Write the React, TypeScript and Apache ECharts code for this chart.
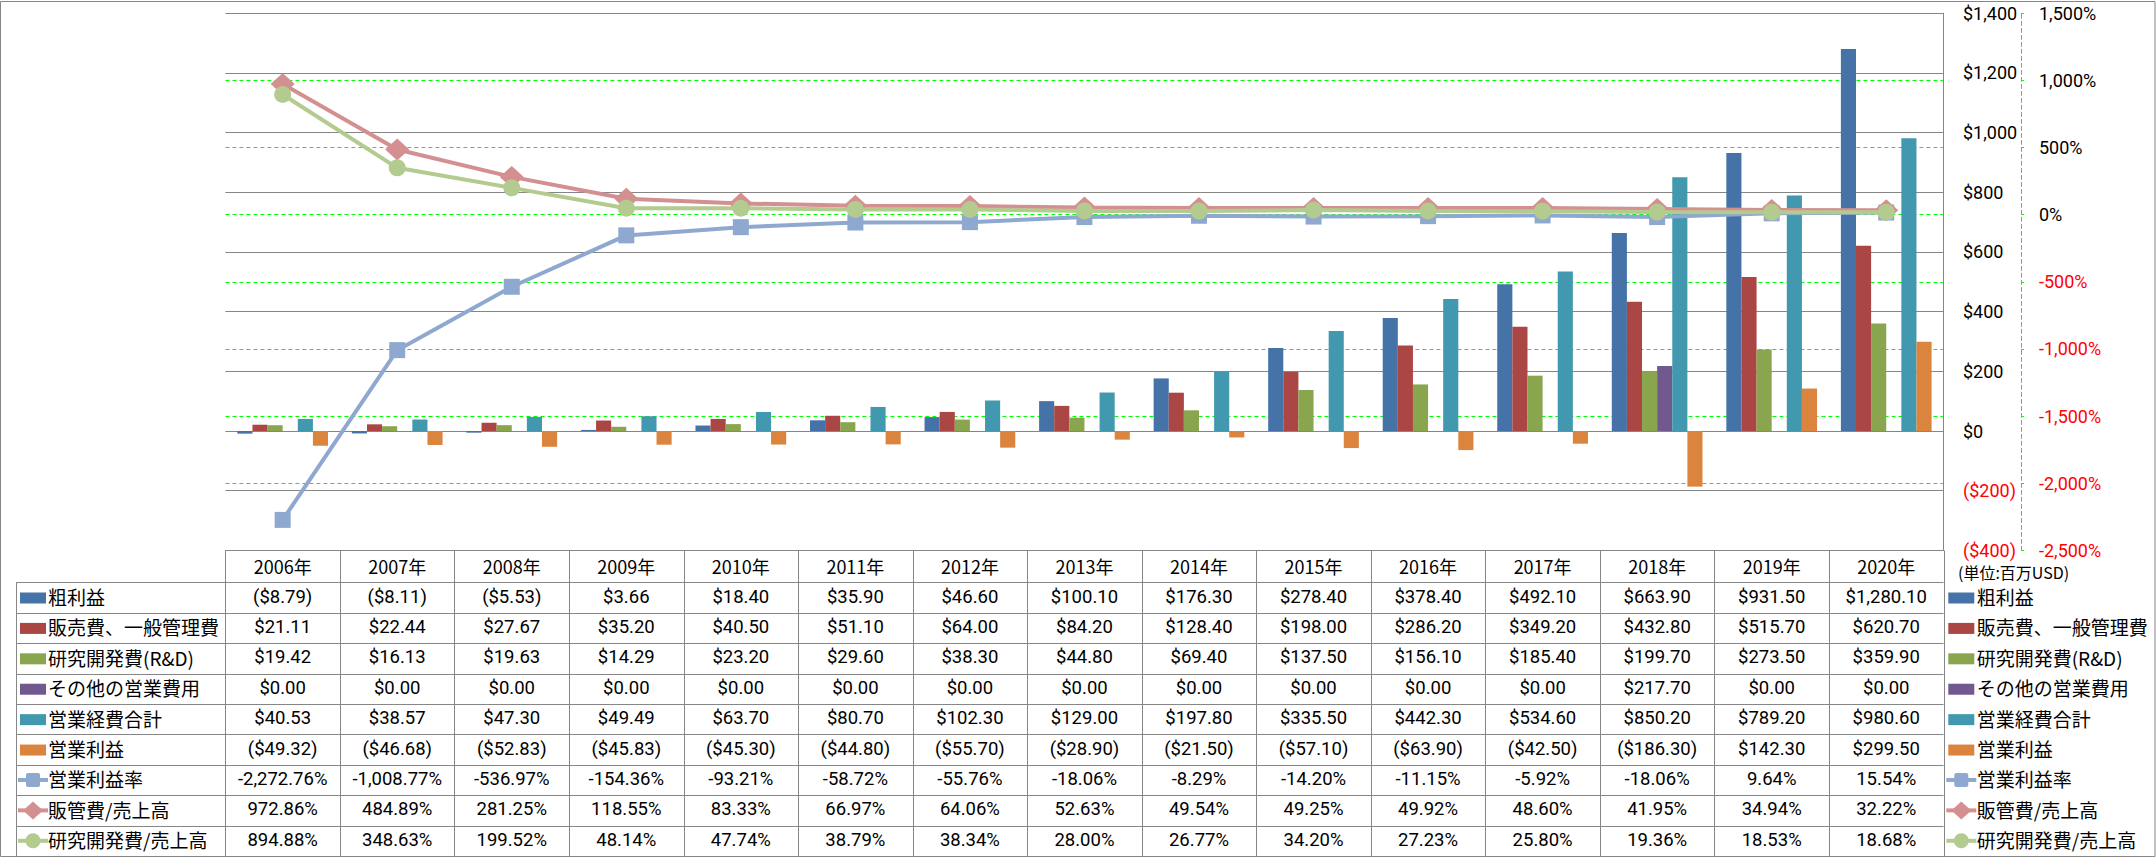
import React, { useEffect, useRef } from "react";
import * as echarts from "echarts";

// ---------------- data ----------------
const years = ["2006", "2007", "2008", "2009", "2010", "2011", "2012", "2013", "2014", "2015", "2016", "2017", "2018", "2019", "2020"];
const grossProfit = [-8.79, -8.11, -5.53, 3.66, 18.4, 35.9, 46.6, 100.1, 176.3, 278.4, 378.4, 492.1, 663.9, 931.5, 1280.1];
const sgaExpense = [21.11, 22.44, 27.67, 35.2, 40.5, 51.1, 64.0, 84.2, 128.4, 198.0, 286.2, 349.2, 432.8, 515.7, 620.7];
const rdExpense = [19.42, 16.13, 19.63, 14.29, 23.2, 29.6, 38.3, 44.8, 69.4, 137.5, 156.1, 185.4, 199.7, 273.5, 359.9];
const otherExpense = [0, 0, 0, 0, 0, 0, 0, 0, 0, 0, 0, 0, 217.7, 0, 0];
const totalOpex = [40.53, 38.57, 47.3, 49.49, 63.7, 80.7, 102.3, 129.0, 197.8, 335.5, 442.3, 534.6, 850.2, 789.2, 980.6];
const operatingIncome = [-49.32, -46.68, -52.83, -45.83, -45.3, -44.8, -55.7, -28.9, -21.5, -57.1, -63.9, -42.5, -186.3, 142.3, 299.5];
const operatingMargin = [-2272.76, -1008.77, -536.97, -154.36, -93.21, -58.72, -55.76, -18.06, -8.29, -14.2, -11.15, -5.92, -18.06, 9.64, 15.54];
const sgaRatio = [972.86, 484.89, 281.25, 118.55, 83.33, 66.97, 64.06, 52.63, 49.54, 49.25, 49.92, 48.6, 41.95, 34.94, 32.22];
const rdRatio = [894.88, 348.63, 199.52, 48.14, 47.74, 38.79, 38.34, 28.0, 26.77, 34.2, 27.23, 25.8, 19.36, 18.53, 18.68];

const seriesNames = ["粗利益", "販売費、一般管理費", "研究開発費(R&D)", "その他の営業費用", "営業経費合計", "営業利益", "営業利益率", "販管費/売上高", "研究開発費/売上高"];
const usdAxis = { min: -400, max: 1400, interval: 200 };
const pctAxis = { min: -2500, max: 1500, interval: 500 };
const unitLabel = "(単位:百万USD)";

// ---------------- styles ----------------
const COLORS = ["#4572A7", "#AA4643", "#89A54E", "#71588F", "#4198AF", "#DB843D", "#8FA8CF", "#D49090", "#B3CB8F"];
const GRID_GRAY = "#868686";
const GREEN = "#00FF00";
const FONT_NUM = "Roboto, 'Noto Sans', sans-serif";
const FONT_JP = "'Noto Sans CJK JP', 'Noto Sans', sans-serif";

const W = 2156;
const H = 858;
const PLOT_L = 225.4;
const PLOT_R = 1943.5;
const PLOT_T = 13.2;
const PLOT_B = 550.4;
const ROW0 = 582.3;
const ROW_H = 30.41;

function commas(v: number, dec: number): string {
  const s = v.toFixed(dec);
  const [i, d] = s.split(".");
  const ii = i.replace(/\B(?=(\d{3})+(?!\d))/g, ",");
  return d !== undefined ? ii + "." + d : ii;
}
function fmtUsd(v: number, dec = 2): string {
  return v < 0 ? `($${commas(-v, dec)})` : `$${commas(v, dec)}`;
}
function fmtPct(v: number, dec = 2): string {
  return `${v < 0 ? "-" : ""}${commas(Math.abs(v), dec)}%`;
}

function textEl(text: string, x: number, y: number, size: number, family: string, align: string, fill = "#000") {
  return {
    type: "text",
    x,
    y,
    silent: true,
    z: 10,
    style: {
      text,
      fontSize: size,
      fontFamily: family,
      fill,
      align,
      verticalAlign: "middle",
      textAlign: align,
      textVerticalAlign: "middle",
    },
  };
}
function lineEl(x1: number, y1: number, x2: number, y2: number, stroke: string, lineWidth = 1) {
  return { type: "line", silent: true, z: 9, shape: { x1, y1, x2, y2 }, style: { stroke, lineWidth } };
}

function keyEls(i: number, x0: number, yc: number): any[] {
  const col = COLORS[i];
  if (i < 6) {
    return [{ type: "rect", silent: true, z: 10, shape: { x: x0, y: yc - 5, width: 26, height: 11 }, style: { fill: col } }];
  }
  const cx = x0 + 13;
  const els: any[] = [lineEl(x0 - 2, yc, x0 + 28, yc, col, 4)];
  if (i === 6) {
    els.push({ type: "rect", silent: true, z: 11, shape: { x: cx - 7, y: yc - 7, width: 14, height: 14, r: 2 }, style: { fill: col } });
  } else if (i === 7) {
    els.push({ type: "polygon", silent: true, z: 11, shape: { points: [[cx, yc - 9], [cx + 10, yc], [cx, yc + 9], [cx - 10, yc]] }, style: { fill: col } });
  } else {
    els.push({ type: "circle", silent: true, z: 11, shape: { cx, cy: yc, r: 7.5 }, style: { fill: col } });
  }
  return els;
}

export default function App() {
  const ref = useRef<HTMLDivElement>(null);

  useEffect(() => {
    if (!ref.current) return;
    const chart = echarts.init(ref.current, undefined, { renderer: "svg", width: W, height: H });

    const rows: number[][] = [grossProfit, sgaExpense, rdExpense, otherExpense, totalOpex, operatingIncome, operatingMargin, sgaRatio, rdRatio];
    const colW = (PLOT_R - PLOT_L) / years.length;
    const nRows = rows.length;
    const tableBottom = ROW0 + nRows * ROW_H;

    const g: any[] = [];
    // outer border
    g.push({ type: "rect", silent: true, z: 1, shape: { x: 0.5, y: 1.5, width: W - 1.5, height: tableBottom - 1 }, style: { fill: "none", stroke: GRID_GRAY, lineWidth: 1 } });

    // table grid
    const px = (v: number) => Math.round(v) + 0.5;
    g.push(lineEl(PLOT_L, px(PLOT_B), PLOT_R, px(PLOT_B), GRID_GRAY));
    for (let r = 0; r <= nRows; r++) {
      const y = px(ROW0 + r * ROW_H);
      g.push(lineEl(16.5, y, PLOT_R, y, GRID_GRAY));
    }
    for (let c = 0; c <= years.length; c++) {
      const x = px(PLOT_L + c * colW);
      g.push(lineEl(x, PLOT_B, x, tableBottom, GRID_GRAY));
    }
    g.push(lineEl(16.5, ROW0, 16.5, tableBottom, GRID_GRAY));

    // header years
    years.forEach((y, c) => {
      g.push(textEl(`${y}年`, PLOT_L + (c + 0.5) * colW, (PLOT_B + ROW0) / 2, 18, FONT_JP, "center"));
    });

    // body values
    rows.forEach((vals, r) => {
      const yc = ROW0 + (r + 0.5) * ROW_H - 1;
      vals.forEach((v, c) => {
        const t = r < 6 ? fmtUsd(v) : fmtPct(v);
        g.push(textEl(t, PLOT_L + (c + 0.5) * colW, yc, 18.5, FONT_NUM, "center"));
      });
      // left legend
      keyEls(r, 20, yc + 1).forEach((e) => g.push(e));
      g.push(textEl(seriesNames[r], 48, yc, 19, FONT_JP, "left"));
      // right legend
      keyEls(r, 1948.3, yc + 1).forEach((e) => g.push(e));
      g.push(textEl(seriesNames[r], 1976.7, yc, 19, FONT_JP, "left"));
    });

    g.push(textEl(unitLabel, 1958, 571.7, 16, FONT_JP, "left"));

    const barNames = seriesNames.slice(0, 6);
    const barData = [grossProfit, sgaExpense, rdExpense, otherExpense, totalOpex, operatingIncome];
    const lineData = [operatingMargin, sgaRatio, rdRatio];
    const lineSymbols = ["rect", "diamond", "circle"];
    const lineSymbolSize: any[] = [16, [24, 22], 17];

    const series: any[] = [];
    barData.forEach((d, i) => {
      series.push({
        name: barNames[i],
        type: "bar",
        yAxisIndex: 0,
        data: d,
        barGap: "0%",
        barCategoryGap: "20.8%",
        itemStyle: { color: COLORS[i] },
        silent: true,
      });
    });
    lineData.forEach((d, j) => {
      series.push({
        name: seriesNames[6 + j],
        type: "line",
        yAxisIndex: 1,
        data: d,
        symbol: lineSymbols[j],
        symbolSize: lineSymbolSize[j],
        showAllSymbol: true,
        lineStyle: { color: COLORS[6 + j], width: 4 },
        itemStyle: { color: COLORS[6 + j], opacity: 1 },
        z: 3 + j,
        silent: true,
      });
    });

    chart.setOption({
      animation: false,
      backgroundColor: "#ffffff",
      grid: { left: PLOT_L, right: W - PLOT_R, top: PLOT_T, bottom: H - PLOT_B, containLabel: false },
      xAxis: {
        type: "category",
        data: years,
        axisLine: { show: false },
        axisTick: { show: false },
        axisLabel: { show: false },
        splitLine: { show: false },
      },
      yAxis: [
        {
          type: "value",
          position: "right",
          min: usdAxis.min,
          max: usdAxis.max,
          interval: usdAxis.interval,
          axisLine: { show: true, lineStyle: { color: GRID_GRAY, width: 1 } },
          axisTick: { show: false },
          splitLine: { show: true, lineStyle: { color: GRID_GRAY, width: 1 } },
          axisLabel: {
            margin: 19.5,
            fontSize: 18,
            fontFamily: FONT_NUM,
            color: (v: any) => (Number(v) < 0 ? "#FF0000" : "#000000"),
            formatter: (v: number) => fmtUsd(v, 0),
          },
        },
        {
          type: "value",
          position: "right",
          offset: 77.5,
          min: pctAxis.min,
          max: pctAxis.max,
          interval: pctAxis.interval,
          axisLine: { show: true, lineStyle: { color: GREEN, width: 1, type: [4, 3] } },
          axisTick: { show: true, length: 3, lineStyle: { color: GREEN } },
          splitLine: { show: true, showMinLine: false, showMaxLine: false, lineStyle: { color: GREEN, width: 1, type: [4, 3] } },
          axisLabel: {
            margin: 18,
            fontSize: 18,
            fontFamily: FONT_NUM,
            color: (v: any) => (Number(v) < 0 ? "#FF0000" : "#000000"),
            formatter: (v: number) => fmtPct(v, 0),
          },
        },
      ],
      series,
      graphic: { elements: g },
    });

    return () => chart.dispose();
  }, []);

  return <div ref={ref} style={{ position: "fixed", left: 0, top: 0, width: W, height: H }} />;
}
